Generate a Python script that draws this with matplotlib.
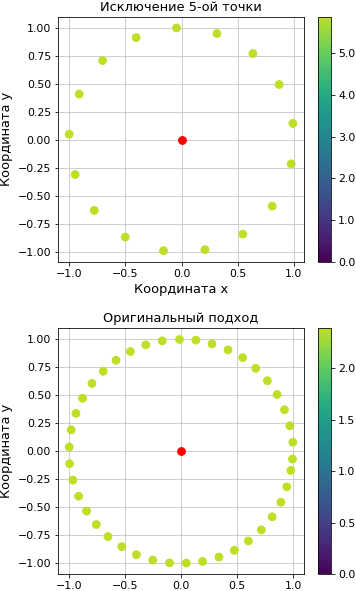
import numpy as np
import matplotlib
matplotlib.use("Agg")
import matplotlib.pyplot as plt
from matplotlib.colors import ListedColormap

# points after excluding the 5th point
top_x = [-0.045, 0.315, 0.635, 0.869, 0.991, 0.976, 0.807, 0.546, 0.208, -0.160,
         -0.501, -0.777, -0.947, -1.0, -0.911, -0.703, -0.404]
top_y = [1.0, 0.95, 0.772, 0.496, 0.149, -0.211, -0.588, -0.837, -0.976, -0.985,
         -0.864, -0.626, -0.306, 0.053, 0.41, 0.709, 0.914]
top_vmax = 5.87
top_c = [5.87] * len(top_x)

# original approach
bot_x = [-0.015, 0.131, 0.275, 0.418, 0.549, 0.666, 0.770, 0.857, 0.922, 0.970,
         0.997, 0.994, 0.979, 0.943, 0.890, 0.812, 0.716, 0.600, 0.475, 0.337,
         0.191, 0.045, -0.104, -0.254, -0.400, -0.531, -0.654, -0.758, -0.845, -0.916,
         -0.967, -0.997, -1.0, -0.982, -0.940, -0.881, -0.797, -0.696, -0.582, -0.454,
         -0.316, -0.170]
bot_y = [1.0, 0.994, 0.961, 0.907, 0.838, 0.742, 0.631, 0.508, 0.372, 0.228,
         0.081, -0.069, -0.171, -0.318, -0.456, -0.586, -0.703, -0.802, -0.886, -0.946,
         -0.985, -1.0, -0.998, -0.973, -0.925, -0.853, -0.763, -0.655, -0.535, -0.402,
         -0.258, -0.111, 0.039, 0.192, 0.339, 0.474, 0.607, 0.715, 0.814, 0.892,
         0.952, 0.988]
bot_vmax = 2.39
bot_c = [2.39] * len(bot_x)

center = (0.0, 0.0)

cmap = ListedColormap(plt.cm.viridis(np.linspace(0, 0.9, 256)))

fig = plt.figure(figsize=(356 / 72, 591 / 72), dpi=72)


def draw(ax_rect, cax_rect, xs, ys, cs, vmax, title, xlabel=True):
    ax = fig.add_axes(ax_rect)
    cax = fig.add_axes(cax_rect)
    ax.set_axisbelow(True)
    sc = ax.scatter(xs, ys, c=cs, cmap=cmap, vmin=0, vmax=vmax, s=60, zorder=2)
    ax.scatter([center[0]], [center[1]], color='red', s=60, zorder=3)
    ax.set_title(title, fontsize=13)
    if xlabel:
        ax.set_xlabel('Координата x', fontsize=13)
    ax.set_ylabel('Координата y', fontsize=13)
    ax.grid(True, color='#c4c4c4')
    ax.set_xticks([-1.0, -0.5, 0.0, 0.5, 1.0])
    ax.set_yticks([-1.0, -0.75, -0.5, -0.25, 0.0, 0.25, 0.5, 0.75, 1.0])
    ax.tick_params(labelsize=11)
    cb = fig.colorbar(sc, cax=cax, format='%.1f')
    cb.ax.tick_params(labelsize=11)
    return ax


draw([0.163, 0.557, 0.691, 0.4146], [0.893, 0.557, 0.0376, 0.4146],
     top_x, top_y, top_c, top_vmax, 'Исключение 5-ой точки')
# the x label of the lower plot falls outside the picture
draw([0.163, 0.0283, 0.691, 0.4162], [0.893, 0.0283, 0.0376, 0.4162],
     bot_x, bot_y, bot_c, bot_vmax, 'Оригинальный подход', xlabel=False)

fig.savefig('out.png', dpi=72)
